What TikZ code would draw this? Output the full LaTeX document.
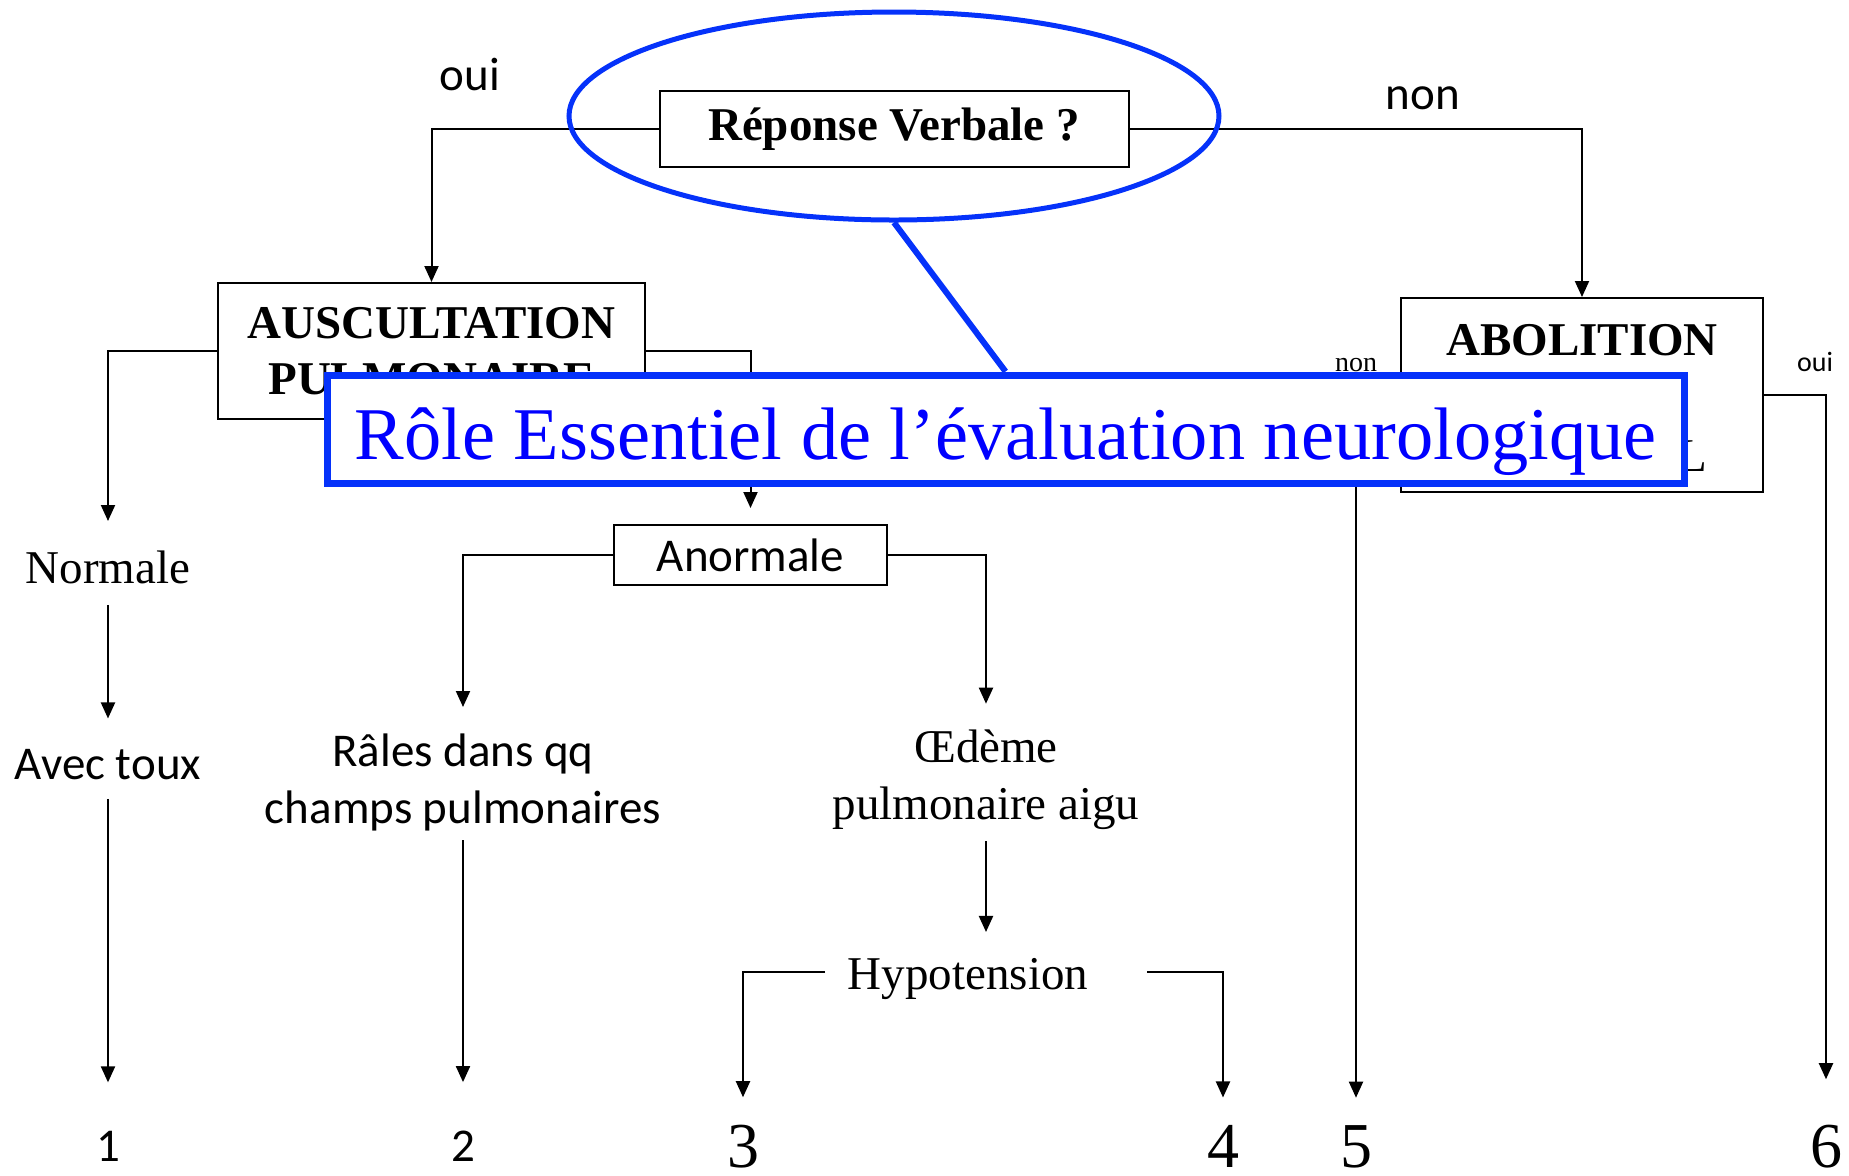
\documentclass[tikz,border=0pt]{standalone}
\usepackage{fontspec}
\setmainfont{Liberation Serif}
\newfontfamily\calfont{Carlito}
\usetikzlibrary{arrows.meta,shapes.geometric,calc}
\definecolor{hlblue}{RGB}{5,50,250}
\definecolor{txtblue}{RGB}{0,0,255}

\begin{document}
\begin{tikzpicture}[x=0.5pt,y=-0.5pt,
  conn/.style={line width=1pt},
  arr/.style={conn,-{Triangle[width=7pt,length=8pt]}},
  boxed/.style={draw,line width=1pt,inner sep=0pt,fill=white},
  tb/.style={font=\fontsize{23.5}{28}\selectfont\bfseries},
  tr/.style={font=\fontsize{23.5}{28.5}\selectfont,inner sep=0pt},
  cr/.style={font=\calfont\fontsize{23.5}{28.5}\selectfont,inner sep=0pt},
  bignum/.style={font=\fontsize{32}{36}\selectfont,inner sep=0pt,anchor=base},
  smallt/.style={font=\fontsize{14}{16}\selectfont,inner sep=0pt,anchor=base},
  smallc/.style={font=\calfont\fontsize{14}{16}\selectfont,inner sep=0pt,anchor=base},
]
\useasboundingbox (0,0) rectangle (1849,1175);

% boxes
\node[boxed,tb,minimum width=234.5pt,minimum height=38pt] (rep) at (894,129) {Réponse Verbale ?};
\node[boxed,tb,align=center,minimum width=213.5pt,minimum height=68pt] (ausc) at (431.5,351) {AUSCULTATION\\PULMONAIRE};
\node[boxed,minimum width=181pt,minimum height=97pt] (abol) at (1582,395) {};
\node[tb,inner sep=0pt] (abolt) at (1582,340) {ABOLITION};
\node[tr,anchor=base east] (abolL) at (1708,471) {L};
\node[boxed,cr,minimum width=136.5pt,minimum height=30pt] (anor) at (750.5,555) {Anormale};

% free texts
\node[tr,anchor=base] (normale) at (108,583) {Normale};
\node[cr,anchor=base] (toux) at (108,779) {Avec toux};
\node[cr,align=center] (rales) at (463,782) {Râles dans qq\\champs pulmonaires};
\node[tr,align=center] (oedeme) at (986,780) {Œdème\\pulmonaire aigu};
\node[tr,anchor=base] (hypo) at (968,989.5) {Hypotension};

% outcome numbers
\node[cr,anchor=base] (n1) at (108,1161) {1};
\node[cr,anchor=base] (n2) at (463,1161) {2};
\node[bignum] (n3) at (743,1167) {3};
\node[bignum] (n4) at (1223,1167) {4};
\node[bignum] (n5) at (1356,1167) {5};
\node[bignum] (n6) at (1826,1167) {6};

% branch labels
\node[cr] (loui) at (470,74) {oui};
\node[cr] (lnon) at (1423,98) {non};
\node[smallt] (snon) at (1356,371) {non};
\node[smallc] (soui) at (1815,371) {oui};

% connectors
\draw[arr] (rep.west) -| (ausc.north);
\draw[arr] (rep.east) -| (abol.north);
\draw[arr,shorten >=14.5pt] (ausc.west) -| (normale.north);
\draw[arr,shorten >=8pt] (ausc.east) -| (anor.north);
\draw[arr,shorten <=10.5pt,shorten >=15pt] (normale.south) -- (toux.north);
\draw[arr,shorten <=9.5pt,shorten >=24pt] (toux.south) -- (n1.north);
\draw[arr,shorten >=13pt] (anor.west) -| (rales.north);
\draw[arr,shorten >=13pt] (anor.east) -| (oedeme.north);
\draw[arr,shorten <=4.5pt,shorten >=24pt] (rales.south) -- (n2.north);
\draw[arr,shorten <=5.5pt,shorten >=13pt] (oedeme.south) -- (oedeme.south |- hypo.north);
\coordinate (hl) at (825,972);
\coordinate (hr) at (1147,972);
\draw[arr,shorten >=13.5pt] (hl) -| (n3.north);
\draw[arr,shorten >=13.5pt] (hr) -| (n4.north);
\draw[arr,shorten >=13.5pt] (abol.west) -| (n5.north);
\draw[arr,shorten >=22.5pt] (abol.east) -| (n6.north);

% highlight: ellipse, pointer and caption box
\node[draw=hlblue,line width=2.5pt,ellipse,minimum width=325pt,minimum height=104pt] (ell) at (894,116) {};
\node[draw=hlblue,line width=3.5pt,fill=white,minimum width=678.5pt,minimum height=54pt,inner sep=0pt,
      text=txtblue,font=\fontsize{37.2}{40}\selectfont,text height=34pt,text depth=4pt]
      (blue) at (1005.5,429) {Rôle Essentiel de l’évaluation neurologique};
\draw[hlblue,line width=3pt] (ell.south) -- (blue.north);
\end{tikzpicture}
\end{document}
